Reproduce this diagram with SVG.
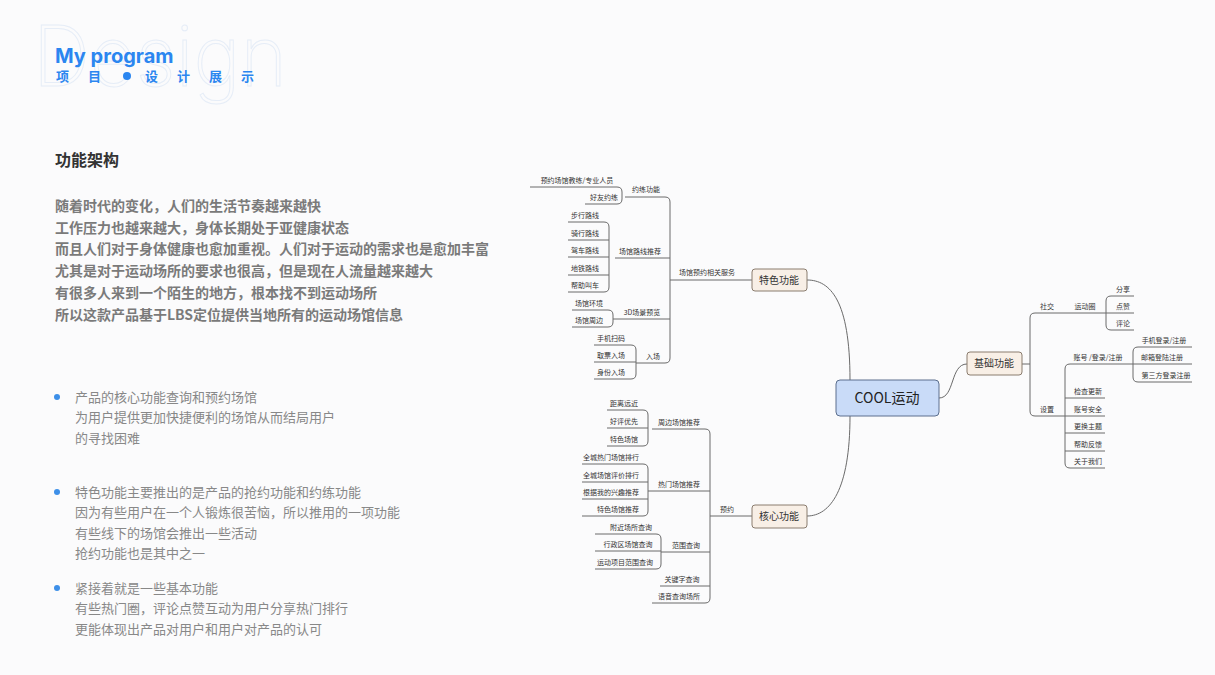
<svg xmlns="http://www.w3.org/2000/svg" width="1215" height="675" viewBox="0 0 1215 675">
<style>
.l{font-family:"Noto Sans CJK SC","Liberation Sans",sans-serif;font-size:7px;fill:#333;text-anchor:middle}
.c path,.c line{stroke:#6a6a6a;stroke-width:1;fill:none}
.box{fill:#f8efe6;stroke:#8a7c6e;stroke-width:1}
.bt{font-family:"Noto Sans CJK SC",sans-serif;font-size:10px;fill:#333;text-anchor:middle}
.p{font-family:"Noto Sans CJK SC",sans-serif;font-size:14px;font-weight:bold;fill:#7a7a7a}
.b{font-family:"Noto Sans CJK SC",sans-serif;font-size:13px;fill:#888}
.dot{fill:#3d8fe8}
</style>
<rect width="1215" height="675" fill="#fbfbfc"/>
<text x="33" y="86" font-family="Inter,sans-serif" font-size="84" font-weight="200" fill="none" stroke="#e6edf7" stroke-width="1" textLength="254" lengthAdjust="spacingAndGlyphs">Design</text>
<text x="55" y="63" font-family="Inter,'Liberation Sans',sans-serif" font-size="20" font-weight="bold" fill="#2b86f0">My program</text>
<g font-family="'Noto Sans CJK SC',sans-serif" font-size="13" font-weight="bold" fill="#2b86f0">
<text x="56" y="81">项</text><text x="88" y="81">目</text><circle cx="127" cy="76" r="4"/><text x="145" y="81">设</text><text x="177" y="81">计</text><text x="209" y="81">展</text><text x="241" y="81">示</text></g>
<text x="55" y="166" font-family="'Noto Sans CJK SC',sans-serif" font-size="16" font-weight="bold" fill="#333">功能架构</text>
<g class="p">
<text x="55" y="211">随着时代的变化，人们的生活节奏越来越快</text>
<text x="55" y="233">工作压力也越来越大，身体长期处于亚健康状态</text>
<text x="55" y="254">而且人们对于身体健康也愈加重视。人们对于运动的需求也是愈加丰富</text>
<text x="55" y="276">尤其是对于运动场所的要求也很高，但是现在人流量越来越大</text>
<text x="55" y="298">有很多人来到一个陌生的地方，根本找不到运动场所</text>
<text x="55" y="320">所以这款产品基于LBS定位提供当地所有的运动场馆信息</text>
</g>
<g class="b">
<circle class="dot" cx="57" cy="397" r="3"/>
<text x="75" y="402">产品的核心功能查询和预约场馆</text>
<text x="75" y="422">为用户提供更加快捷便利的场馆从而结局用户</text>
<text x="75" y="443">的寻找困难</text>
<circle class="dot" cx="57" cy="492" r="3"/>
<text x="75" y="497">特色功能主要推出的是产品的抢约功能和约练功能</text>
<text x="75" y="517">因为有些用户在一个人锻炼很苦恼，所以推用的一项功能</text>
<text x="75" y="538">有些线下的场馆会推出一些活动</text>
<text x="75" y="558">抢约功能也是其中之一</text>
<circle class="dot" cx="57" cy="588" r="3"/>
<text x="75" y="593">紧接着就是一些基本功能</text>
<text x="75" y="613">有些热门圈，评论点赞互动为用户分享热门排行</text>
<text x="75" y="634">更能体现出产品对用户和用户对产品的认可</text>
</g>
<g class="c" id="connectors">
<path d="M850,380 C850,300 830,280 807,280"/>
<path d="M850,416 C850,490 830,516 807,516"/>
<path d="M939,398 C955,398 950,364 967,364"/>
<line x1="670" y1="280" x2="752" y2="280"/>
<path d="M625,197 H665 Q670,197 670,202 V358 Q670,363 665,363"/>
<path d="M530,187 H617 Q622,187 622,192 V199 Q622,204 617,204 H585"/>
<path d="M615,258 H670"/>
<path d="M568,222 H604 Q609,222 609,227 V287 Q609,292 604,292 H568"/>
<path d="M568,240 H609 M568,257 H609 M568,275 H609"/>
<path d="M613,319 H670"/>
<path d="M572,310 H608 Q613,310 613,315 V322 Q613,327 608,327 H572"/>
<path d="M636,363 H665"/>
<path d="M594,345 H631 Q636,345 636,350 V374 Q636,379 631,379 H594 M594,362 H636"/>
<line x1="710" y1="516" x2="752" y2="516"/>
<path d="M652,429 H705 Q710,429 710,434 V598 Q710,603 705,603 H652"/>
<path d="M607,410 H643 Q648,410 648,415 V441 Q648,446 643,446 H607 M607,428 H648"/>
<path d="M648,491 H710"/>
<path d="M582,464 H643 Q648,464 648,469 V511 Q648,516 643,516 H582 M582,482 H648 M582,499 H648"/>
<path d="M661,552 H710"/>
<path d="M595,534 H656 Q661,534 661,539 V564 Q661,569 656,569 H595 M595,551 H661"/>
<path d="M660,586 H710"/>
<line x1="1022" y1="364" x2="1030" y2="364"/>
<path d="M1106,313 H1035 Q1030,313 1030,318 V411 Q1030,416 1035,416 H1065"/>
<path d="M1134,296 H1111 Q1106,296 1106,301 V325 Q1106,330 1111,330 H1134 M1106,313 H1134"/>
<path d="M1133,364 H1070 Q1065,364 1065,369 V463 Q1065,468 1070,468 H1105"/>
<path d="M1065,398 H1105 M1065,416 H1105 M1065,433 H1105 M1065,451 H1105"/>
<path d="M1192,347 H1138 Q1133,347 1133,352 V377 Q1133,382 1138,382 H1192 M1133,364 H1192"/>
</g>
<g id="center"><rect x="836" y="380" width="103" height="36" rx="4" fill="#c9dbf8" stroke="#5c6f8e"/><text x="887" y="403" font-family="'Noto Sans CJK SC',sans-serif" font-size="14" text-anchor="middle" fill="#222">COOL运动</text></g>
<g id="tese"><rect class="box" x="752" y="269" width="55" height="22" rx="3"/><text class="bt" x="779" y="284">特色功能</text></g>
<g id="hexin"><rect class="box" x="752" y="505" width="55" height="23" rx="3"/><text class="bt" x="779" y="520">核心功能</text></g>
<g id="jichu"><rect class="box" x="967" y="352" width="55" height="23" rx="3"/><text class="bt" x="994" y="367">基础功能</text></g>
<g id="labels" class="l">
<text x="707" y="275">场馆预约相关服务</text>
<text x="646" y="192">约练功能</text>
<text x="577" y="183">预约场馆教练/专业人员</text>
<text x="604" y="200">好友约练</text>
<text x="640" y="254">场馆路线推荐</text>
<text x="585" y="218">步行路线</text><text x="585" y="236">骑行路线</text><text x="585" y="253">驾车路线</text><text x="585" y="271">地铁路线</text><text x="585" y="288">帮助叫车</text>
<text x="642" y="315">3D场景预览</text>
<text x="589" y="306">场馆环境</text><text x="589" y="323">场馆周边</text>
<text x="653" y="359">入场</text>
<text x="611" y="341">手机扫码</text><text x="611" y="358">取票入场</text><text x="611" y="375">身份入场</text>
<text x="727" y="512">预约</text>
<text x="679" y="425">周边场馆推荐</text>
<text x="624" y="406">距离远近</text><text x="624" y="424">好评优先</text><text x="624" y="442">特色场馆</text>
<text x="679" y="487">热门场馆推荐</text>
<text x="611" y="460">全城热门场馆排行</text><text x="611" y="478">全城场馆评价排行</text><text x="611" y="495">根据我的兴趣推荐</text><text x="618" y="512">特色场馆推荐</text>
<text x="686" y="548">范围查询</text>
<text x="631" y="530">附近场所查询</text><text x="628" y="547">行政区场馆查询</text><text x="625" y="565">运动项目范围查询</text>
<text x="682" y="582">关键字查询</text>
<text x="679" y="599">语音查询场所</text>
<text x="1047" y="309">社交</text>
<text x="1085" y="309">运动圈</text>
<text x="1123" y="292">分享</text><text x="1123" y="309">点赞</text><text x="1123" y="326">评论</text>
<text x="1047" y="412">设置</text>
<text x="1098" y="360">账号 /登录/注册</text>
<text x="1164" y="343">手机登录/注册</text><text x="1162" y="360">邮箱登陆注册</text><text x="1166" y="378">第三方登录注册</text>
<text x="1088" y="394">检查更新</text><text x="1088" y="412">账号安全</text><text x="1088" y="429">更换主题</text><text x="1088" y="447">帮助反馈</text><text x="1088" y="464">关于我们</text>
</g>
</svg>
